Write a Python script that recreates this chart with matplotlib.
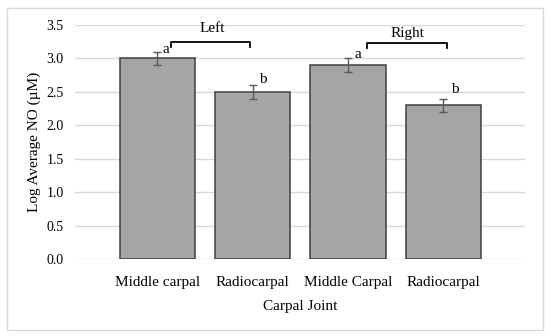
import numpy as np
import matplotlib
matplotlib.use("Agg")
import matplotlib.pyplot as plt
from matplotlib.patches import Rectangle

plt.rcParams['font.family'] = ['Liberation Serif', 'DejaVu Serif']

# data
joints = ['Middle carpal', 'Radiocarpal', 'Middle Carpal', 'Radiocarpal']
log_no = [3.0, 2.5, 2.9, 2.3]
err = [0.1, 0.1, 0.1, 0.1]
letters = ['a', 'b', 'a', 'b']
sides = ['Left', 'Right']

fig = plt.figure(figsize=(5.5, 3.36), dpi=100)
ax = fig.add_axes([0.136, 0.229, 0.8185, 0.6966])

# outer chart border
fig.patches.append(Rectangle((0.013, 0.018), 0.974, 0.958, transform=fig.transFigure,
                             fill=False, edgecolor='#D9D9D9', linewidth=1))

x = np.arange(len(joints))
ax.bar(x, log_no, width=0.79, color='#A5A5A5', edgecolor='#404040', linewidth=1.1, zorder=3)
ax.errorbar(x, log_no, yerr=err, fmt='none', ecolor='#595959', elinewidth=1,
            capsize=3, capthick=1, zorder=4)

ax.set_xlim(-0.866, 3.855)
ax.set_ylim(0, 3.5)
ax.set_yticks(np.arange(0, 3.51, 0.5))
ax.set_yticklabels(['%.1f' % v for v in np.arange(0, 3.51, 0.5)], fontsize=10)
ax.set_xticks(x)
ax.set_xticklabels(joints, fontsize=11)
ax.tick_params(length=0)
ax.tick_params(axis='x', pad=12)
ax.tick_params(axis='y', pad=8)
ax.grid(axis='y', color='#D9D9D9', linewidth=1, zorder=0)
for s in ax.spines.values():
    s.set_visible(False)

ax.set_xlabel('Carpal Joint', fontsize=11, labelpad=8)
ax.set_ylabel('Log Average NO (µM)', fontsize=11, labelpad=4)

# significance letters
lx = [0.09, 1.107, 2.10, 3.12]
ly = [3.13, 2.68, 3.06, 2.53]
for i in range(4):
    ax.text(lx[i], ly[i], letters[i], ha='center', va='center', fontsize=11)

# brackets
br = [(0.142, 0.97, 3.24, 3.17), (2.20, 3.04, 3.23, 3.15)]
lab_pos = [(0.57, 3.45), (2.62, 3.38)]
for (x0, x1, yt, yb), (tx, ty), name in zip(br, lab_pos, sides):
    ax.plot([x0, x0, x1, x1], [yb, yt, yt, yb], color='black', linewidth=1.3, clip_on=False)
    ax.text(tx, ty, name, ha='center', va='center', fontsize=11)

fig.savefig('out.png', dpi=100)
